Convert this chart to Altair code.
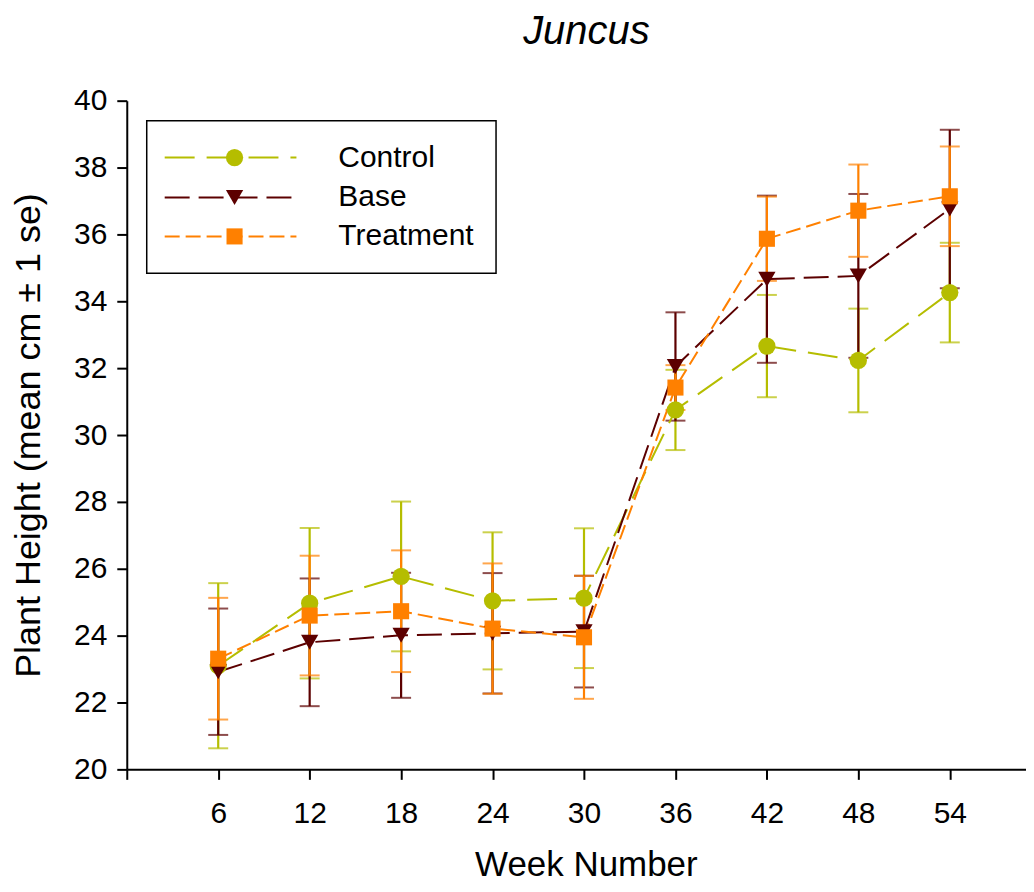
import altair as alt
import pandas as pd

weeks = [6, 12, 18, 24, 30, 36, 42, 48, 54]
series_names = ["Control", "Base", "Treatment"]

control_mean = [23.10, 24.97, 25.77, 25.04, 25.12, 30.75, 32.66, 32.23, 34.26]
control_se = [2.47, 2.25, 2.24, 2.05, 2.09, 1.20, 1.53, 1.55, 1.49]
base_mean = [22.92, 23.80, 24.01, 24.07, 24.12, 32.05, 34.66, 34.76, 36.76]
base_se = [1.89, 1.91, 1.87, 1.80, 1.67, 1.62, 2.50, 2.45, 2.37]
treat_mean = [23.31, 24.60, 24.73, 24.21, 23.95, 31.42, 35.87, 36.71, 37.14]
treat_se = [1.82, 1.79, 1.82, 1.95, 1.84, 0.67, 1.26, 1.38, 1.49]

y_ticks = [20, 22, 24, 26, 28, 30, 32, 34, 36, 38, 40]

rows = []
for name, means, ses in [("Control", control_mean, control_se),
                         ("Base", base_mean, base_se),
                         ("Treatment", treat_mean, treat_se)]:
    for w, m, s in zip(weeks, means, ses):
        rows.append({"series": name, "week": w, "mean": m, "lo": m - s, "hi": m + s})
df = pd.DataFrame(rows)
legend_df = pd.DataFrame({"series": series_names, "label": series_names})

FONT = "Liberation Sans"
styles = {
    "Control": dict(color="#B5BD00", dash=[30, 12], shape="circle", size=300),
    "Base": dict(color="#5C0000", dash=[25, 9], shape="triangle-down", size=300),
    "Treatment": dict(color="#FF8000", dash=[15, 6], shape="square", size=260),
}
legend_y = {"Control": 57, "Base": 97, "Treatment": 136}

xscale = alt.Scale(domain=[0, 59], nice=False, zero=False)
yscale = alt.Scale(domain=[20, 40], nice=False, zero=False)
x_axis = alt.Axis(values=[0] + weeks, labelExpr="datum.value == 0 ? '' : datum.label",
                  grid=False, labelPadding=19, titlePadding=19, titleX=460,
                  titleFontSize=35)
y_axis = alt.Axis(values=y_ticks, grid=False, labelPadding=10, titlePadding=26)


def X(field="week"):
    return alt.X(f"{field}:Q", scale=xscale, axis=x_axis, title="Week Number")


def Y(field):
    return alt.Y(f"{field}:Q", scale=yscale, axis=y_axis, title="Plant Height (mean cm ± 1 se)")


base = alt.Chart(df)
layers = []

# error bars
for name in series_names:
    st = styles[name]
    src = base.transform_filter(alt.datum.series == name)
    layers.append(src.mark_rule(color=st["color"], strokeWidth=2.2).encode(
        x=X(), y=Y("lo"), y2="hi:Q"))
    for fld in ["lo", "hi"]:
        layers.append(src.mark_tick(color=st["color"], orient="horizontal", size=20, thickness=2).encode(
            x=X(), y=Y(fld)))

# lines
for name in series_names:
    st = styles[name]
    src = base.transform_filter(alt.datum.series == name)
    layers.append(src.mark_line(color=st["color"], strokeWidth=2, strokeDash=st["dash"]).encode(
        x=X(), y=Y("mean")))

# markers
for name in series_names:
    st = styles[name]
    src = base.transform_filter(alt.datum.series == name)
    layers.append(src.mark_point(shape=st["shape"], size=st["size"], filled=True,
                                 color=st["color"], opacity=1).encode(
        x=X(), y=Y("mean")))

# legend box
leg = alt.Chart(legend_df)
layers.append(leg.transform_filter(alt.datum.series == "Control").mark_rect(
    fill="white", stroke="black", strokeWidth=1.5).encode(
    x=alt.value(20), x2=alt.value(370), y=alt.value(20), y2=alt.value(173)))
for name in series_names:
    st = styles[name]
    src = leg.transform_filter(alt.datum.series == name)
    yy = legend_y[name]
    layers.append(src.mark_rule(color=st["color"], strokeWidth=2, strokeDash=st["dash"]).encode(
        x=alt.value(38), x2=alt.value(170), y=alt.value(yy)))
    layers.append(src.mark_point(shape=st["shape"], size=st["size"], filled=True,
                                 color=st["color"], opacity=1).encode(
        x=alt.value(108), y=alt.value(yy)))
    layers.append(src.mark_text(align="left", baseline="middle", font=FONT, fontSize=30,
                                color="black").encode(
        x=alt.value(212), y=alt.value(yy), text="label:N"))

chart = alt.layer(*layers).properties(
    width=901, height=670,
    title=alt.TitleParams(text="Juncus", font=FONT, fontSize=40, fontStyle="italic",
                          fontWeight="normal", color="black", offset=34, dx=10),
    autosize=alt.AutoSizeParams(type="none"),
    padding={"left": 119, "top": 92, "right": 0, "bottom": 114},
).configure_view(stroke=None).configure_axis(
    domainColor="black", domainWidth=2, tickColor="black", tickWidth=2, tickSize=10,
    labelFont=FONT, labelFontSize=30, labelColor="black",
    titleFont=FONT, titleFontSize=36, titleFontWeight="normal", titleColor="black",
)

chart.save("out.html", embed_options={"renderer": "svg", "actions": False})
